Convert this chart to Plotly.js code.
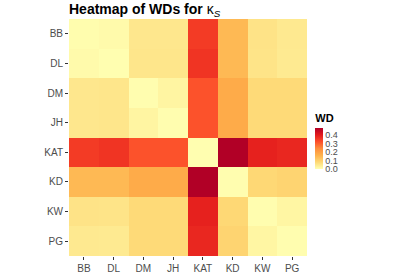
<!DOCTYPE html>
<html>
<head>
<meta charset="utf-8">
<script src="https://cdn.plot.ly/plotly-3.0.1.min.js"></script>
<style>html,body{margin:0;padding:0;background:#fff;}#chart{width:393px;height:273px;}</style>
</head>
<body>
<div id="chart"></div>
<script>
const names = ["BB", "DL", "DM", "JH", "KAT", "KD", "KW", "PG"];
const rowBB  = [0.005, 0.010, 0.050, 0.050, 0.350, 0.145, 0.058, 0.046];
const rowDL  = [0.010, 0.003, 0.052, 0.052, 0.360, 0.145, 0.056, 0.044];
const rowDM  = [0.050, 0.052, 0.004, 0.022, 0.315, 0.175, 0.077, 0.077];
const rowJH  = [0.050, 0.052, 0.022, 0.004, 0.315, 0.175, 0.077, 0.077];
const rowKAT = [0.350, 0.360, 0.315, 0.315, 0.002, 0.480, 0.390, 0.380];
const rowKD  = [0.145, 0.145, 0.175, 0.175, 0.480, 0.004, 0.082, 0.090];
const rowKW  = [0.058, 0.056, 0.077, 0.077, 0.390, 0.082, 0.004, 0.020];
const rowPG  = [0.046, 0.044, 0.077, 0.077, 0.380, 0.090, 0.020, 0.004];
const zRows = [rowBB, rowDL, rowDM, rowJH, rowKAT, rowKD, rowKW, rowPG];
const cbTicks = [0.0, 0.1, 0.2, 0.3, 0.4];

const ylorrd = [
  [0, "#ffffb2"], [1/6, "#fed976"], [2/6, "#feb24c"], [3/6, "#fd8d3c"],
  [4/6, "#fc4e2a"], [5/6, "#e31a1c"], [1, "#b10026"]
];

const trace = {
  type: "heatmap",
  x: names,
  y: names,
  z: zRows,
  colorscale: ylorrd,
  zmin: 0,
  zmax: 0.48,
  colorbar: {
    title: {text: "<b>WD</b>", side: "top", font: {size: 11, color: "#000", family: "Liberation Sans, Arial, sans-serif"}},
    thickness: 8,
    thicknessmode: "pixels",
    len: 58,
    lenmode: "pixels",
    x: 1.035,
    xanchor: "left",
    xpad: 0,
    y: 0.367,
    yanchor: "bottom",
    ypad: 0,
    outlinewidth: 0,
    ticks: "",
    tickvals: cbTicks,
    ticktext: cbTicks.map(v => v.toFixed(1)),
    tickfont: {size: 9, color: "#4d4d4d"}
  },
  hoverinfo: "x+y+z"
};

const layout = {
  width: 393,
  height: 273,
  margin: {l: 69, r: 86, t: 19, b: 17, pad: 0},
  paper_bgcolor: "#fff",
  plot_bgcolor: "#fff",
  font: {family: "Liberation Sans, Arial, sans-serif", color: "#4d4d4d"},
  title: {
    text: "<b>Heatmap of WDs for </b>κ<sub><i>S</i></sub>",
    x: 0, xref: "paper", xanchor: "left",
    y: 0.965, yref: "container", yanchor: "middle",
    font: {size: 14, color: "#000"}
  },
  xaxis: {
    type: "category",
    categoryorder: "array",
    categoryarray: names,
    ticks: "outside", ticklen: 3, tickcolor: "#333", tickwidth: 1,
    tickfont: {size: 10, color: "#4d4d4d"},
    showgrid: false, zeroline: false, showline: false
  },
  yaxis: {
    type: "category",
    categoryorder: "array",
    categoryarray: names,
    autorange: "reversed",
    ticks: "outside", ticklen: 3, tickcolor: "#333", tickwidth: 1,
    tickfont: {size: 10, color: "#4d4d4d"},
    showgrid: false, zeroline: false, showline: false
  }
};

Plotly.newPlot("chart", [trace], layout, {displayModeBar: false, staticPlot: true});
</script>
</body>
</html>
